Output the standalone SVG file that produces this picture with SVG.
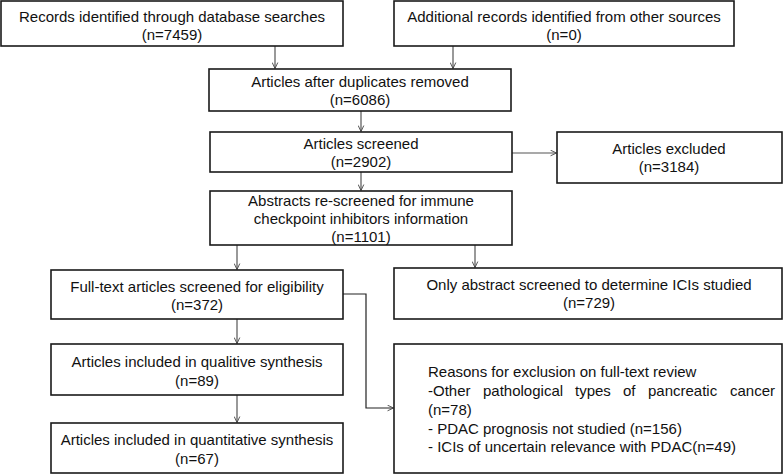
<svg xmlns="http://www.w3.org/2000/svg" width="783" height="474" viewBox="0 0 783 474">
<defs>
<marker id="arr" viewBox="0 0 10 10" refX="9.5" refY="5" markerWidth="7" markerHeight="7" markerUnits="userSpaceOnUse" orient="auto">
<path d="M1,1 L9.5,5 L1,9" fill="none" stroke="#444" stroke-width="1.3"/>
</marker>
</defs>
<style>
rect{fill:#fff;stroke:#1a1a1a;stroke-width:1.6}
text{font-family:"Liberation Sans",Arial,sans-serif;font-size:15px;fill:#111}
.c{text-anchor:middle}
.ln{fill:none;stroke:#555;stroke-width:1.2}
.dk{stroke:#222}
</style>
<rect x="0" y="0" width="783" height="474" style="stroke:none"/>
<g id="connectors">
<path class="ln" d="M275,46 V68.5" marker-end="url(#arr)"/>
<path class="ln" d="M453,46 V68.5" marker-end="url(#arr)"/>
<path class="ln" d="M361,111 V131.5" marker-end="url(#arr)"/>
<path class="ln" d="M512,153 H556.5" marker-end="url(#arr)"/>
<path class="ln" d="M361,172 V190.5" marker-end="url(#arr)"/>
<path class="ln" d="M237,245 V269.5" marker-end="url(#arr)"/>
<path class="ln" d="M475,245 V267.5" marker-end="url(#arr)"/>
<path class="ln" d="M237,319 V343.5" marker-end="url(#arr)"/>
<path class="ln" d="M237,395 V422.5" marker-end="url(#arr)"/>
<path class="ln dk" d="M343,294 H366 V408 H393.5" marker-end="url(#arr)"/>
</g>
<g id="n1"><rect x="1" y="1" width="342" height="45"/>
<text class="c" x="172" y="22">Records identified through database searches</text>
<text class="c" x="172" y="40">(n=7459)</text></g>
<g id="n2"><rect x="394" y="1" width="340" height="45"/>
<text class="c" x="564" y="22">Additional records identified from other sources</text>
<text class="c" x="564" y="40">(n=0)</text></g>
<g id="n3"><rect x="209" y="69" width="302" height="42"/>
<text class="c" x="360" y="87">Articles after duplicates removed</text>
<text class="c" x="360" y="105">(n=6086)</text></g>
<g id="n4"><rect x="210" y="132" width="302" height="40"/>
<text class="c" x="361" y="149">Articles screened</text>
<text class="c" x="361" y="167">(n=2902)</text></g>
<g id="n5"><rect x="557" y="132" width="225" height="51"/>
<text class="c" x="669" y="154">Articles excluded</text>
<text class="c" x="669" y="172">(n=3184)</text></g>
<g id="n6"><rect x="210" y="191" width="302" height="54"/>
<text class="c" x="361" y="206">Abstracts re-screened for immune</text>
<text class="c" x="361" y="224">checkpoint inhibitors information</text>
<text class="c" x="361" y="242">(n=1101)</text></g>
<g id="n7"><rect x="51" y="270" width="292" height="49"/>
<text class="c" x="197" y="292">Full-text articles screened for eligibility</text>
<text class="c" x="197" y="310">(n=372)</text></g>
<g id="n8"><rect x="394" y="268" width="388" height="51"/>
<text class="c" x="589" y="290">Only abstract screened to determine ICIs studied</text>
<text class="c" x="589" y="308">(n=729)</text></g>
<g id="n9"><rect x="51" y="344" width="292" height="51"/>
<text class="c" x="197" y="367">Articles included in qualitive synthesis</text>
<text class="c" x="197" y="386">(n=89)</text></g>
<g id="n10"><rect x="51" y="423" width="292" height="50"/>
<text class="c" x="197" y="445">Articles included in quantitative synthesis</text>
<text class="c" x="197" y="464">(n=67)</text></g>
<g id="n11"><rect x="394" y="344" width="388" height="129"/>
<text x="428" y="377">Reasons for exclusion on full-text review</text>
<text y="396"><tspan x="428">-Other</tspan><tspan x="483">pathological</tspan><tspan x="575">types</tspan><tspan x="623">of</tspan><tspan x="648">pancreatic</tspan><tspan x="730">cancer</tspan></text>
<text x="428" y="415">(n=78)</text>
<text x="428" y="434">- PDAC prognosis not studied (n=156)</text>
<text x="428" y="452">- ICIs of uncertain relevance with PDAC(n=49)</text></g>
</svg>
